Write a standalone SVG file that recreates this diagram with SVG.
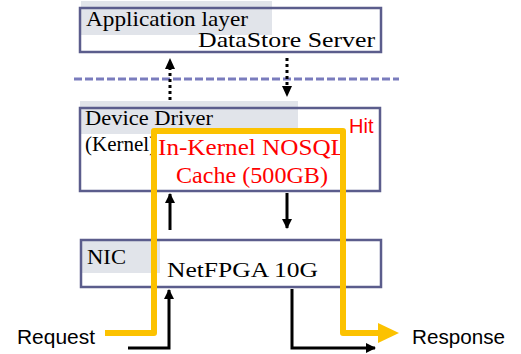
<svg xmlns="http://www.w3.org/2000/svg" width="521" height="354" viewBox="0 0 521 354">
<defs>
<style>
.box{fill:none;stroke:#5b5d8c;stroke-width:2.5}
.hl{fill:#e1e4ea}
.lbl{font-family:"Liberation Serif","DejaVu Serif",serif;font-size:22px;fill:#000}
.red{font-family:"Liberation Serif","DejaVu Serif",serif;font-size:23px;fill:#ff0000}
.sans{font-family:"Liberation Sans","Noto Sans",sans-serif;font-size:20px;fill:#000}
.blk{fill:none;stroke:#000;stroke-width:3}
.dot{fill:none;stroke:#000;stroke-width:3;stroke-dasharray:3 3}
.yel{fill:none;stroke:#fcc200;stroke-width:6;stroke-linejoin:round}
</style>
<marker id="ah" markerWidth="10" markerHeight="10" viewBox="0 0 10 10" refX="9" refY="5" orient="auto" markerUnits="userSpaceOnUse">
<path d="M0,0 L10,5 L0,10 Z" fill="#000"/>
</marker>
</defs>
<g id="app-layer">
<rect class="hl" x="81" y="1" width="191" height="34"/>
<rect class="box" x="80" y="8" width="301" height="44"/>
<text class="lbl" x="86" y="26" textLength="162" lengthAdjust="spacingAndGlyphs">Application layer</text>
<text class="lbl" x="375" y="47" text-anchor="end" textLength="177" lengthAdjust="spacingAndGlyphs">DataStore Server</text>
</g>
<g id="boundary">
<line x1="74" y1="79" x2="399" y2="79" stroke="#7a7cbd" stroke-width="3" stroke-dasharray="8 3"/>
</g>
<g id="device-driver">
<rect class="hl" x="80" y="101" width="218" height="33"/>
<rect class="box" x="80" y="108" width="300" height="83"/>
<text class="lbl" x="85" y="125" textLength="128" lengthAdjust="spacingAndGlyphs">Device Driver</text>
<text class="lbl" x="85" y="151" style="font-size:21px">(Kernel)</text>
<text class="red" x="252" y="155" text-anchor="middle" textLength="188" lengthAdjust="spacingAndGlyphs">In-Kernel NOSQL</text>
<text class="red" x="252" y="183" text-anchor="middle" textLength="152" lengthAdjust="spacingAndGlyphs">Cache (500GB)</text>
<text class="red" x="349" y="133" style="font-family:'Liberation Sans','Noto Sans',sans-serif;font-size:20px">Hit</text>
</g>
<g id="nic">
<rect class="hl" x="81" y="241" width="79" height="32"/>
<rect class="box" x="81" y="240" width="300" height="47"/>
<text class="lbl" x="87" y="264" textLength="39" lengthAdjust="spacingAndGlyphs">NIC</text>
<text class="lbl" x="167" y="277" textLength="151" lengthAdjust="spacingAndGlyphs">NetFPGA 10G</text>
</g>
<g id="labels">
<text class="sans" x="17" y="344" textLength="78" lengthAdjust="spacingAndGlyphs">Request</text>
<text class="sans" x="412" y="344" textLength="93" lengthAdjust="spacingAndGlyphs">Response</text>
</g>
<g id="connectors">
<line class="dot" x1="170" y1="100" x2="170" y2="68"/>
<path d="M165,69 L170,58 L175,69 Z" fill="#000"/>
<line class="dot" x1="287" y1="58" x2="287" y2="87"/>
<path d="M282,86 L287,97 L292,86 Z" fill="#000"/>
<line class="blk" x1="170" y1="230" x2="170" y2="194" marker-end="url(#ah)"/>
<line class="blk" x1="287" y1="193" x2="287" y2="228" marker-end="url(#ah)"/>
<path class="blk" d="M128,348 H169 V290" marker-end="url(#ah)"/>
<path class="blk" d="M292,289 V348 H375" marker-end="url(#ah)"/>
<path class="yel" d="M105,333 H154 V131 H343 V333 H380"/>
<path d="M378,323 L399,333 L378,343 Z" fill="#fcc200"/>
</g>
</svg>
